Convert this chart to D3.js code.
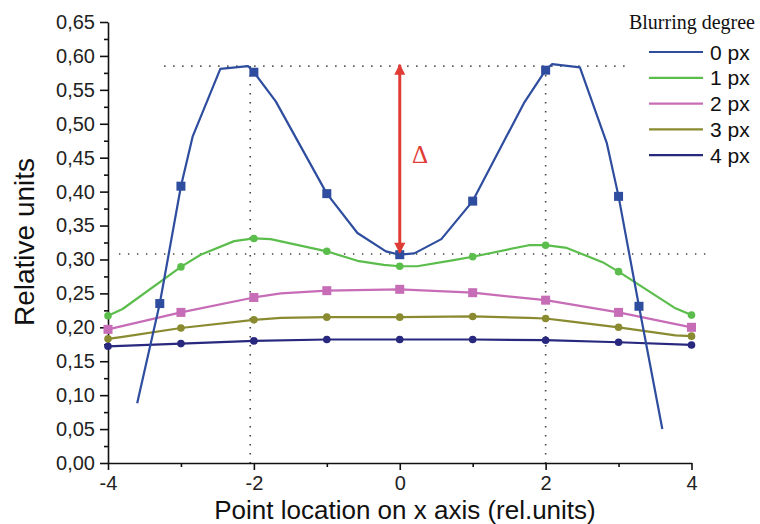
<!DOCTYPE html>
<html>
<head>
<meta charset="utf-8">
<script src="https://cdn.jsdelivr.net/npm/d3@7"></script>
<style>
  html, body { margin: 0; padding: 0; background: #fff; }
  svg { display: block; }
</style>
</head>
<body>
<div id="chart"></div>
<script>
// Blurring profiles
const seriesNames = ["0 px", "1 px", "2 px", "3 px", "4 px"];
const seriesColors = ["#2E4D9E", "#5BBE4C", "#C76CB6", "#8A8A30", "#27287E"];
const seriesShapes = ["square", "circle", "square", "circle", "circle"];

const x0 = [-3.6, -3.29, -3, -2.84, -2.46, -2.08, -2, -1.7, -1, -0.58, -0.19, 0, 0.2, 0.57, 1, 1.7, 2, 2.09, 2.47, 2.84, 3, 3.28, 3.6];
const y0 = [0.088, 0.235, 0.408, 0.481, 0.581, 0.585, 0.576, 0.533, 0.397, 0.339, 0.312, 0.307, 0.309, 0.330, 0.386, 0.530, 0.579, 0.588, 0.583, 0.471, 0.393, 0.231, 0.050];
const m0 = [-3.29, -3, -2, -1, 0, 1, 2, 3, 3.28];

const x1 = [-4, -3.8, -3, -2.73, -2.27, -2, -1.77, -1, -0.58, -0.22, 0, 0.24, 0.74, 1, 1.77, 2, 2.29, 2.78, 3, 3.78, 4];
const y1 = [0.217, 0.227, 0.289, 0.307, 0.327, 0.331, 0.330, 0.312, 0.298, 0.292, 0.290, 0.290, 0.299, 0.304, 0.321, 0.321, 0.317, 0.296, 0.282, 0.228, 0.218];

const x2 = [-4, -3, -2, -1.63, -1, 0, 1, 2, 3, 4];
const y2 = [0.197, 0.222, 0.244, 0.250, 0.254, 0.256, 0.251, 0.240, 0.222, 0.200];

const x3 = [-4, -3.8, -3, -2, -1.63, -1, 0, 1, 1.77, 2, 2.3, 3, 3.78, 4];
const y3 = [0.183, 0.186, 0.199, 0.211, 0.214, 0.215, 0.215, 0.216, 0.214, 0.213, 0.209, 0.200, 0.188, 0.187];

const x4 = [-4, -3, -2, -1, 0, 1, 2, 3, 4];
const y4 = [0.172, 0.176, 0.180, 0.182, 0.182, 0.182, 0.181, 0.178, 0.174];

const intMarks = [-4, -3, -2, -1, 0, 1, 2, 3, 4];

const xTicks = [-4, -2, 0, 2, 4];
const xMinor = [-3, -1, 1, 3];
const yTicks = [0, 0.05, 0.10, 0.15, 0.20, 0.25, 0.30, 0.35, 0.40, 0.45, 0.50, 0.55, 0.60, 0.65];
const yMinor = [0.025, 0.075, 0.125, 0.175, 0.225, 0.275, 0.325, 0.375, 0.425, 0.475, 0.525, 0.575, 0.625];

// guide lines (dotted) and the delta arrow
const peakLevel = 0.585, dipLevel = 0.308;
const peakSpan = [-3.23, 3.12];
const dipSpan = [-3.85, 4.26];
const guideX = [-2.05, 2];
const deltaAt = 0, deltaFrom = 0.310, deltaTo = 0.587;

const W = 760, H = 524;
const svg = d3.select("#chart").append("svg").attr("width", W).attr("height", H);

const x = d3.scaleLinear().domain([-4, 4]).range([108, 691.5]);
const y = d3.scaleLinear().domain([0, 0.65]).range([463, 22]);

const FONT = "Arial, 'Liberation Sans', sans-serif";

// dotted guides
const guides = svg.append("g")
  .attr("stroke", "#444")
  .attr("stroke-width", 1.6)
  .attr("stroke-dasharray", "1.4,7.6")
  .attr("fill", "none");
guides.append("line")
  .attr("x1", x(peakSpan[0])).attr("x2", x(peakSpan[1]))
  .attr("y1", y(peakLevel)).attr("y2", y(peakLevel));
guides.append("line")
  .attr("x1", x(dipSpan[0])).attr("x2", x(dipSpan[1]))
  .attr("y1", y(dipLevel)).attr("y2", y(dipLevel));
guideX.forEach(gx => {
  guides.append("line")
    .attr("x1", x(gx)).attr("x2", x(gx))
    .attr("y1", y(peakLevel)).attr("y2", y(0));
});

// axes
const fmt = d => d.toFixed(2).replace(".", ",");

const yAxis = svg.append("g")
  .attr("transform", `translate(${x(-4)},0)`)
  .call(d3.axisLeft(y).tickValues(yTicks).tickFormat(fmt).tickSize(8).tickSizeOuter(0).tickPadding(5));
svg.append("g")
  .attr("transform", `translate(${x(-4)},0)`)
  .call(d3.axisLeft(y).tickValues(yMinor).tickFormat("").tickSize(4).tickSizeOuter(0))
  .call(g => g.select(".domain").remove());

const xAxis = svg.append("g")
  .attr("transform", `translate(0,${y(0)})`)
  .call(d3.axisBottom(x).tickValues(xTicks).tickFormat(d => d).tickSize(7).tickSizeOuter(0).tickPadding(6));
svg.append("g")
  .attr("transform", `translate(0,${y(0)})`)
  .call(d3.axisBottom(x).tickValues(xMinor).tickFormat("").tickSize(4).tickSizeOuter(0))
  .call(g => g.select(".domain").remove());

svg.selectAll(".domain, .tick line").attr("stroke", "#111").attr("stroke-width", 1.6);
yAxis.selectAll("text").attr("font-family", FONT).attr("font-size", 20).attr("fill", "#222");
xAxis.selectAll("text").attr("font-family", FONT).attr("font-size", 20).attr("fill", "#222");

// axis titles
svg.append("text")
  .attr("x", 405).attr("y", 519)
  .attr("text-anchor", "middle")
  .attr("font-family", FONT).attr("font-size", 26).attr("fill", "#111")
  .text("Point location on x axis (rel.units)");

svg.append("text")
  .attr("transform", "translate(34,242) rotate(-90)")
  .attr("text-anchor", "middle")
  .attr("font-family", FONT).attr("font-size", 28).attr("fill", "#111")
  .text("Relative units");

// series
const allX = [x0, x1, x2, x3, x4];
const allY = [y0, y1, y2, y3, y4];
const allM = [m0, intMarks, intMarks, intMarks, intMarks];

const series = seriesNames.map((name, i) => ({
  name,
  color: seriesColors[i],
  shape: seriesShapes[i],
  points: allX[i].map((v, j) => ({ x: v, y: allY[i][j] })),
  marks: allX[i].map((v, j) => ({ x: v, y: allY[i][j] })).filter(p => allM[i].includes(p.x))
}));

const line = d3.line().x(d => x(d.x)).y(d => y(d.y));

const plot = svg.append("g");
series.slice().reverse().forEach(s => {
  const g = plot.append("g");
  g.append("path")
    .attr("d", line(s.points))
    .attr("fill", "none")
    .attr("stroke", s.color)
    .attr("stroke-width", 2.2)
    .attr("stroke-linejoin", "round");
  if (s.shape === "square") {
    g.selectAll("rect").data(s.marks).join("rect")
      .attr("x", d => x(d.x) - 4.5).attr("y", d => y(d.y) - 4.5)
      .attr("width", 9).attr("height", 9)
      .attr("fill", s.color);
  } else {
    g.selectAll("circle").data(s.marks).join("circle")
      .attr("cx", d => x(d.x)).attr("cy", d => y(d.y))
      .attr("r", 3.8)
      .attr("fill", s.color);
  }
});

// delta arrow
const red = "#E03C36";
const defs = svg.append("defs");
defs.append("marker")
  .attr("id", "redhead")
  .attr("viewBox", "0 -5 10 10")
  .attr("refX", 9).attr("refY", 0)
  .attr("markerUnits", "userSpaceOnUse")
  .attr("markerWidth", 12).attr("markerHeight", 11)
  .attr("orient", "auto-start-reverse")
  .append("path")
  .attr("d", "M0,-5L10,0L0,5Z")
  .attr("fill", red);

svg.append("line")
  .attr("x1", x(deltaAt)).attr("x2", x(deltaAt))
  .attr("y1", y(deltaFrom)).attr("y2", y(deltaTo))
  .attr("stroke", red).attr("stroke-width", 3)
  .attr("marker-start", "url(#redhead)")
  .attr("marker-end", "url(#redhead)");

svg.append("text")
  .attr("x", 420).attr("y", 163)
  .attr("text-anchor", "middle")
  .attr("font-family", "'Liberation Serif', 'Times New Roman', serif")
  .attr("font-size", 25).attr("fill", red)
  .text("Δ");

// legend
const legend = svg.append("g");
legend.append("text")
  .attr("x", 755).attr("y", 29)
  .attr("text-anchor", "end")
  .attr("font-family", "'Liberation Serif', 'Times New Roman', serif")
  .attr("font-size", 20).attr("fill", "#111")
  .text("Blurring degree");

series.forEach((s, i) => {
  const ly = 52 + i * 25.8;
  legend.append("line")
    .attr("x1", 649).attr("x2", 703)
    .attr("y1", ly).attr("y2", ly)
    .attr("stroke", s.color).attr("stroke-width", 2.2);
  legend.append("text")
    .attr("x", 710).attr("y", ly)
    .attr("dy", "0.36em")
    .attr("font-family", FONT).attr("font-size", 21).attr("fill", "#111")
    .text(s.name);
});
</script>
</body>
</html>
